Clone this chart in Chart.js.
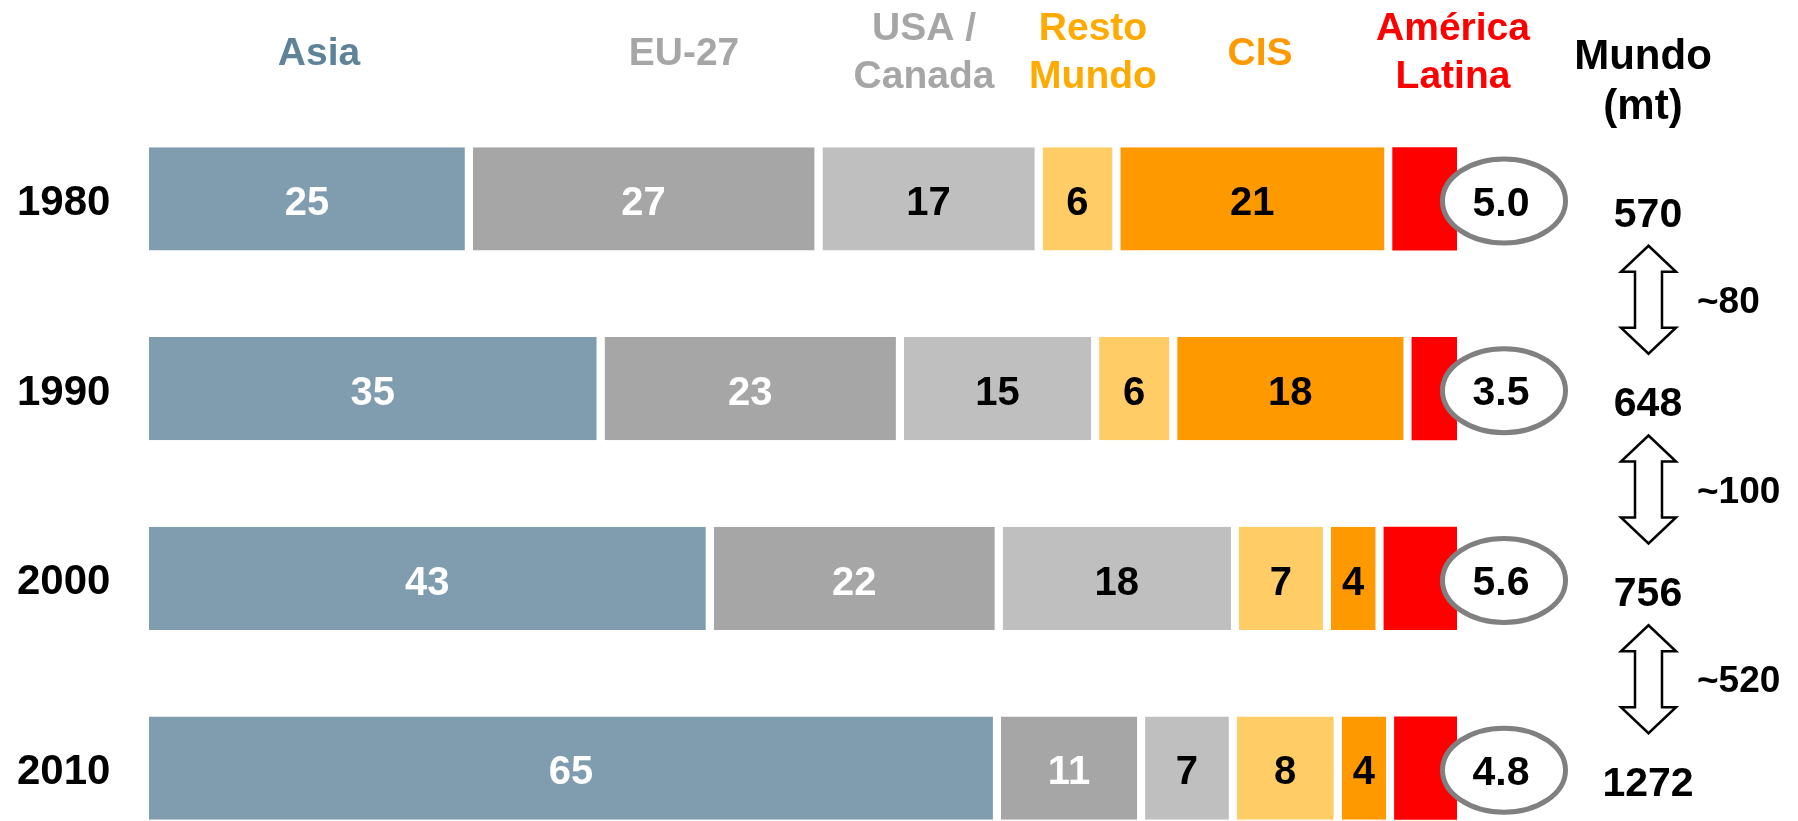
<!DOCTYPE html>
<html>
<head>
<meta charset="utf-8">
<script src="https://cdn.jsdelivr.net/npm/chart.js@4/dist/chart.umd.min.js"></script>
<style>
  html, body { margin: 0; padding: 0; background: #ffffff; }
  #wrap { width: 1798px; height: 821px; overflow: hidden; position: relative; }
  canvas { display: block; }
</style>
</head>
<body>
<div id="wrap"><canvas id="c" width="1798" height="866"></canvas></div>
<script>
// ---- Data ----
const years = ['1980', '1990', '2000', '2010'];
const regionNames = ['Asia', 'EU-27', 'USA / Canada', 'Resto Mundo', 'CIS', 'América Latina'];
const asia = [25, 35, 43, 65];
const eu27 = [27, 23, 22, 11];
const usaCanada = [17, 15, 18, 7];
const restoMundo = [6, 6, 7, 8];
const cis = [21, 18, 4, 4];
const americaLatina = [5.0, 3.5, 5.6, 4.8];
const mundoTotal = [570, 648, 756, 1272];
const mundoGrowth = ['~80', '~100', '~520'];
const mundoTitle = ['Mundo', '(mt)'];

// ---- Styles / layout (kept apart from data) ----
const seriesValues = [asia, eu27, usaCanada, restoMundo, cis, americaLatina];
const barColors = ['#7F9DAF', '#A6A6A6', '#BFBFBF', '#FFCC66', '#FF9900', '#FF0000'];
const headerColors = ['#5E8297', '#A6A6A6', '#A6A6A6', '#FFAA00', '#FF9900', '#FF0000'];
const labelColors = ['#FFFFFF', '#FFFFFF', '#000000', '#000000', '#000000', null];
const headerLines = [['Asia'], ['EU-27'], ['USA /', 'Canada'], ['Resto', 'Mundo'], ['CIS'], ['América', 'Latina']];
const headerX = [319, 684, 924, 1093, 1260, 1453];
const GAP = 8;
const FONT = '"Liberation Sans", Arial, Helvetica, sans-serif';

const rowSums = years.map((_, r) => seriesValues.reduce((s, arr) => s + arr[r], 0));

const datasets = seriesValues.map((vals, i) => ({
  label: regionNames[i],
  data: vals.map((v, r) => v / rowSums[r] * 100),
  backgroundColor: barColors[i],
  borderColor: '#FFFFFF',
  borderWidth: i < seriesValues.length - 1 ? { left: 0, top: 0, bottom: 0, right: GAP } : 0,
  borderSkipped: false,
  barPercentage: 0.543,
  categoryPercentage: 1.0
}));

function textCap(ctx, txt, x, y, size, color, align) {
  ctx.font = 'bold ' + size + 'px ' + FONT;
  ctx.fillStyle = color;
  ctx.textAlign = align || 'center';
  ctx.textBaseline = 'alphabetic';
  ctx.fillText(txt, x, y + size * 0.358);
}

function drawArrow(ctx, cx, cy, len, headH, headHW, shaftHW) {
  const top = cy - len / 2, bot = cy + len / 2;
  ctx.beginPath();
  ctx.moveTo(cx, top);
  ctx.lineTo(cx + headHW, top + headH);
  ctx.lineTo(cx + shaftHW, top + headH);
  ctx.lineTo(cx + shaftHW, bot - headH);
  ctx.lineTo(cx + headHW, bot - headH);
  ctx.lineTo(cx, bot);
  ctx.lineTo(cx - headHW, bot - headH);
  ctx.lineTo(cx - shaftHW, bot - headH);
  ctx.lineTo(cx - shaftHW, top + headH);
  ctx.lineTo(cx - headHW, top + headH);
  ctx.closePath();
  ctx.fillStyle = '#FFFFFF';
  ctx.fill();
  ctx.lineWidth = 2.5;
  ctx.strokeStyle = '#000000';
  ctx.lineJoin = 'miter';
  ctx.stroke();
}

const annotate = {
  id: 'annotate',
  afterDatasetsDraw(chart) {
    const ctx = chart.ctx;
    ctx.save();
    const n = seriesValues.length;
    const lastMeta = chart.getDatasetMeta(n - 1);

    // labels inside segments
    for (let d = 0; d < n - 1; d++) {
      const meta = chart.getDatasetMeta(d);
      meta.data.forEach((el, r) => {
        const cx = (el.base + el.x - GAP) / 2;
        textCap(ctx, String(seriesValues[d][r]), cx, el.y + 2, 40, labelColors[d]);
      });
    }

    // ellipses with América Latina share
    lastMeta.data.forEach((el, r) => {
      const cx = el.x + 47, cy = el.y + 2;
      ctx.beginPath();
      ctx.ellipse(cx, cy, 61.5, 42, 0, 0, Math.PI * 2);
      ctx.fillStyle = '#FFFFFF';
      ctx.fill();
      ctx.lineWidth = 5;
      ctx.strokeStyle = '#808080';
      ctx.stroke();
      textCap(ctx, americaLatina[r].toFixed(1), cx - 3, cy, 41, '#000000');
    });

    // year labels
    lastMeta.data.forEach((el, r) => {
      textCap(ctx, years[r], 17, el.y + 1, 42, '#000000', 'left');
    });

    // headers
    headerLines.forEach((lines, i) => {
      if (lines.length === 1) {
        textCap(ctx, lines[0], headerX[i], 51, 39, headerColors[i]);
      } else {
        textCap(ctx, lines[0], headerX[i], 26, 39, headerColors[i]);
        textCap(ctx, lines[1], headerX[i], 74, 39, headerColors[i]);
      }
    });
    textCap(ctx, mundoTitle[0], 1643, 54, 42, '#000000');
    textCap(ctx, mundoTitle[1], 1643, 104, 42, '#000000');

    // world totals
    lastMeta.data.forEach((el, r) => {
      textCap(ctx, String(mundoTotal[r]), 1648, el.y + 13, 41, '#000000');
    });

    // arrows and growth
    for (let r = 0; r < mundoGrowth.length; r++) {
      const y0 = lastMeta.data[r].y, y1 = lastMeta.data[r + 1].y;
      const cy = (y0 + y1) / 2 + 6;
      drawArrow(ctx, 1648.5, cy, 108, 26, 27.5, 13.5);
      textCap(ctx, mundoGrowth[r], 1697, cy, 37, '#000000', 'left');
    }
    ctx.restore();
  }
};

new Chart(document.getElementById('c'), {
  type: 'bar',
  data: { labels: years, datasets: datasets },
  options: {
    indexAxis: 'y',
    responsive: false,
    animation: false,
    devicePixelRatio: 1,
    layout: { padding: { left: 149, right: 341, top: 104, bottom: 3 } },
    scales: {
      x: { stacked: true, min: 0, max: 100, display: false },
      y: { stacked: true, display: false }
    },
    plugins: { legend: { display: false }, tooltip: { enabled: false } }
  },
  plugins: [annotate]
});
</script>
</body>
</html>
